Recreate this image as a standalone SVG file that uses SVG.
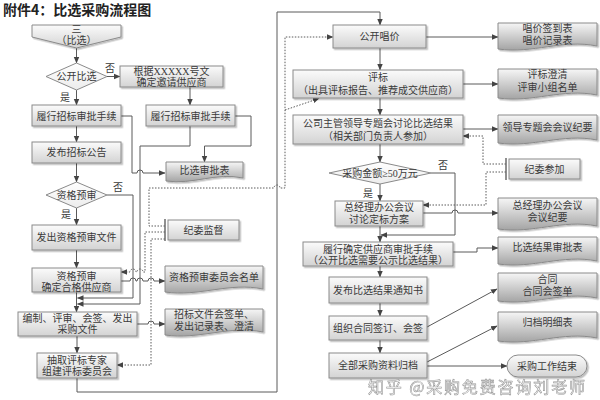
<svg xmlns="http://www.w3.org/2000/svg" width="600" height="400" viewBox="0 0 600 400">
<defs>
<linearGradient id="gBox" x1="0" y1="0" x2="0" y2="1"><stop offset="0" stop-color="#fbfbfb"/><stop offset="1" stop-color="#d3d3d3"/></linearGradient>
<linearGradient id="gDoc" x1="0" y1="0" x2="0" y2="1"><stop offset="0" stop-color="#f6f6f6"/><stop offset="1" stop-color="#a4a4a4"/></linearGradient>
<linearGradient id="gDia" x1="0" y1="0" x2="0" y2="1"><stop offset="0" stop-color="#ffffff"/><stop offset="1" stop-color="#ececec"/></linearGradient>
<filter id="sh" x="-10%" y="-10%" width="130%" height="150%"><feDropShadow dx="1.5" dy="1.5" stdDeviation="0.7" flood-color="#000" flood-opacity="0.25"/></filter>
<marker id="ah" markerWidth="7" markerHeight="7" refX="6" refY="3.5" orient="auto" markerUnits="userSpaceOnUse"><path d="M0,0.8 L6.5,3.5 L0,6.2 Z" fill="#444"/></marker>
</defs>
<style>
text{font-family:"Liberation Serif","Noto Sans CJK SC",serif;font-size:10px;fill:#3a3a3a;text-anchor:middle}
.box{fill:url(#gBox);stroke:#8a8a8a;stroke-width:1;filter:url(#sh)}
.doc{fill:url(#gDoc);stroke:#8a8a8a;stroke-width:1;filter:url(#sh)}
.dia{fill:url(#gDia);stroke:#8a8a8a;stroke-width:1}
.ln{fill:none;stroke:#5a5a5a;stroke-width:1}
.arr{marker-end:url(#ah)}
.dot{fill:none;stroke:#5a5a5a;stroke-width:1;stroke-dasharray:1.5,1.5}
.brk{fill:none;stroke:#6a6a6a;stroke-width:1.5}
.lbl{font-size:10px}
.title{font-family:"Noto Sans CJK SC",sans-serif;font-size:14px;font-weight:bold;text-anchor:start;fill:#222}
.wm{font-family:"Noto Sans CJK SC",sans-serif;font-size:16px;text-anchor:start;fill:#ffffff;stroke:#8c8c8c;stroke-width:0.6;opacity:0.9}
</style>
<rect width="600" height="400" fill="#ffffff"/>
<text class="title" x="3" y="15">附件4：比选采购流程图</text>

<g id="connectors">
<path class="ln arr" d="M76.5,48 V63"/>
<path class="ln arr" d="M107,76.5 H120"/>
<path class="ln arr" d="M76.5,90 V105"/>
<path class="ln arr" d="M190,87 V105"/>
<path class="ln arr" d="M76.5,126 V142"/>
<path class="ln arr" d="M121,116 H132 V173 H137 A3,3 0 0 1 143,173 H165"/>
<path class="ln arr" d="M235,116 H251 V146 H204.5 V162"/>
<path class="ln arr" d="M190,126 V146 H140 V304 H77.5"/>
<path class="ln arr" d="M76.5,163 V182"/>
<path class="ln arr" d="M107,195 H133 V298 H77.5"/>
<path class="ln arr" d="M76.5,208 V225"/>
<path class="ln arr" d="M76.5,250 V268"/>
<path class="ln arr" d="M121,281 H130 A3,3 0 0 1 136,281 H137 A3,3 0 0 1 143,281 H148 A3,3 0 0 1 154,281 H165"/>
<path class="ln arr" d="M76.5,292 V312"/>
<path class="ln arr" d="M137,324 H148 A3,3 0 0 1 154,324 H165"/>
<path class="ln arr" d="M77,336 V353"/>
<path class="ln arr" d="M77,378 V392 H277 V12 H380 V25"/>
<path class="ln arr" d="M426,37 H498"/>
<path class="ln arr" d="M380,48 V70"/>
<path class="ln arr" d="M463,84 H498"/>
<path class="ln arr" d="M380,98 V115"/>
<path class="ln arr" d="M463,129 H498"/>
<path class="ln arr" d="M380,144 V162"/>
<path class="ln arr" d="M380,184 V201"/>
<path class="ln arr" d="M431,173 H455 V235 H381"/>
<path class="ln arr" d="M423,213 H452 A3,3 0 0 1 458,213 H498"/>
<path class="ln arr" d="M380,226 V242"/>
<path class="ln arr" d="M453,252 H477 V248 H498"/>
<path class="ln arr" d="M380,266 V277"/>
<path class="ln arr" d="M380,303 V316"/>
<path class="ln arr" d="M427,327 L497,289"/>
<path class="ln arr" d="M380,340 V353"/>
<path class="ln arr" d="M427,362 L497,326"/>
<path class="ln arr" d="M427,366 H507"/>
<path class="dot arr" d="M165,226 H149 V188 H274 A3,3 0 0 1 280,188 H285 V37 H333"/>
<path class="dot arr" d="M285,110 L319,98.5"/>
<path class="dot arr" d="M165,232 H145 V272 H143 A3,3 0 0 0 137,272 H136 A3,3 0 0 0 130,272 H121"/>
<path class="dot arr" d="M165,239 H151 V365 H117"/>
<path class="dot arr" d="M506,164 H483 V136 H463"/>
<path class="dot arr" d="M506,172 H486 V205 H423"/>
<path class="brk" d="M165,219 V241"/>
<path class="brk" d="M506,158 V180"/>
</g>

<g id="n_start"><path class="box" d="M32,25 H121 V37 L76.5,48 L32,37 Z"/><text x="76.5" y="33">三</text><text x="76.5" y="44">（比选）</text></g>
<g id="d_open"><polygon class="dia" points="76.5,63 107,76.5 76.5,90 46,76.5"/><text x="76.5" y="80">公开比选</text></g>
<text class="lbl" x="110" y="72">否</text>
<text class="lbl" x="65" y="101">是</text>
<g id="n_basis"><rect class="box" x="120" y="66" width="103" height="21"/><text x="171.5" y="75">根据XXXXX号文</text><text x="171.5" y="85.5">确定邀请供应商</text></g>
<g id="n_appr1"><rect class="box" x="32" y="105" width="89" height="21"/><text x="76.5" y="119.5">履行招标审批手续</text></g>
<g id="n_appr2"><rect class="box" x="146" y="105" width="89" height="21"/><text x="190.5" y="119.5">履行招标审批手续</text></g>
<g id="n_announce"><rect class="box" x="32" y="142" width="89" height="21"/><text x="76.5" y="156">发布招标公告</text></g>
<g id="doc_bxsp"><path class="doc" transform="translate(166,162)" d="M0,0 H77 V16 C50,10 27,23 0,19 Z"/><text x="204.5" y="174">比选审批表</text></g>
<g id="d_pre"><polygon class="dia" points="76.5,182 107,195 76.5,208 46,195"/><text x="76.5" y="198.5">资格预审</text></g>
<text class="lbl" x="118" y="191">否</text>
<text class="lbl" x="66" y="217.5">是</text>
<g id="n_issue"><rect class="box" x="32" y="225" width="89" height="25"/><text x="76.5" y="241">发出资格预审文件</text></g>
<g id="n_jwjd"><rect class="box" x="168" y="220" width="71" height="20"/><text x="203.5" y="233.5">纪委监督</text></g>
<g id="n_qual"><rect class="box" x="32" y="268" width="89" height="24"/><text x="76.5" y="279.5">资格预审</text><text x="76.5" y="290.5">确定合格供应商</text></g>
<g id="doc_qlist"><path class="doc" transform="translate(165,266)" d="M0,0 H98 V23 C64,16 34,31 0,26 Z"/><text x="214" y="280.5">资格预审委员会名单</text></g>
<g id="n_compile"><rect class="box" x="18" y="312" width="119" height="24"/><text x="77.5" y="321.5">编制、评审、会签、发出</text><text x="77.5" y="333">采购文件</text></g>
<g id="doc_dlist"><path class="doc" transform="translate(165,309)" d="M0,0 H98 V23 C64,16 34,31 0,26 Z"/><text x="214" y="317.5">招标文件会签单、</text><text x="214" y="329.5">发出记录表、澄清</text></g>
<g id="n_expert"><rect class="box" x="37" y="353" width="80" height="25"/><text x="77" y="363.5">抽取评标专家</text><text x="77" y="375">组建评标委员会</text></g>

<g id="n_bid"><rect class="box" x="333" y="25" width="93" height="23"/><text x="379.5" y="40">公开唱价</text></g>
<g id="doc1"><path class="doc" transform="translate(498,23)" d="M0,0 H99 V23 C64,16 35,31 0,26 Z"/><text x="547.5" y="31.5">唱价签到表</text><text x="547.5" y="44">唱价记录表</text></g>
<g id="n_eval"><rect class="box" x="293" y="70" width="170" height="28"/><text x="378" y="80.5">评标</text><text x="378" y="93.5">（出具评标报告、推荐成交供应商）</text></g>
<g id="doc2"><path class="doc" transform="translate(498,69)" d="M0,0 H99 V26 C64,19 35,34 0,29 Z"/><text x="547.5" y="77.5">评标澄清</text><text x="547.5" y="90.5">评审小组名单</text></g>
<g id="n_lead"><rect class="box" x="293" y="115" width="170" height="29"/><text x="378" y="126.5">公司主管领导专题会讨论比选结果</text><text x="378" y="139.5">（相关部门负责人参加）</text></g>
<g id="doc3"><path class="doc" transform="translate(498,115)" d="M0,0 H99 V25 C64,18 35,33 0,28 Z"/><text x="547.5" y="130.5">领导专题会会议纪要</text></g>
<g id="n_jwcj"><rect class="box" x="509" y="159" width="71" height="20"/><text x="544.5" y="172.5">纪委参加</text></g>
<g id="d_amt"><polygon class="dia" points="380,162 431,173 380,184 329,173"/><text x="380" y="176.5">采购金额≥50万元</text></g>
<text class="lbl" x="443" y="168.5">否</text>
<text class="lbl" x="368" y="196.5">是</text>
<g id="n_gm"><rect class="box" x="335" y="201" width="88" height="25"/><text x="379" y="210.5">总经理办公会议</text><text x="379" y="222.5">讨论定标方案</text></g>
<g id="doc4"><path class="doc" transform="translate(498,198)" d="M0,0 H99 V28 C64,21 35,36 0,31 Z"/><text x="547.5" y="208.5">总经理办公会议</text><text x="547.5" y="220.5">会议纪要</text></g>
<g id="n_confirm"><rect class="box" x="303" y="242" width="150" height="24"/><text x="378" y="252.5">履行确定供应商审批手续</text><text x="378" y="264">（公开比选需要公示比选结果）</text></g>
<g id="doc5"><path class="doc" transform="translate(498,237)" d="M0,0 H99 V24 C64,17 35,32 0,27 Z"/><text x="547.5" y="250.5">比选结果审批表</text></g>
<g id="n_notice"><rect class="box" x="329" y="277" width="98" height="26"/><text x="378" y="293.5">发布比选结果通知书</text></g>
<g id="doc6"><path class="doc" transform="translate(498,273)" d="M0,0 H99 V25 C64,18 35,33 0,28 Z"/><text x="547.5" y="282.5">合同</text><text x="547.5" y="294.5">合同会签单</text></g>
<g id="n_sign"><rect class="box" x="329" y="316" width="98" height="24"/><text x="378" y="331.5">组织合同签订、会签</text></g>
<g id="doc7"><path class="doc" transform="translate(498,312)" d="M0,0 H99 V26 C64,19 35,34 0,29 Z"/><text x="547.5" y="325.5">归档明细表</text></g>
<g id="n_archive"><rect class="box" x="329" y="353" width="98" height="25"/><text x="378" y="368.5">全部采购资料归档</text></g>
<g id="n_end"><rect class="box" x="507" y="355" width="80" height="22" rx="11" ry="11"/><text x="547" y="369.5">采购工作结束</text></g>

<text class="wm" x="368" y="393" textLength="217" lengthAdjust="spacing">知乎 @采购免费咨询刘老师</text>
</svg>
